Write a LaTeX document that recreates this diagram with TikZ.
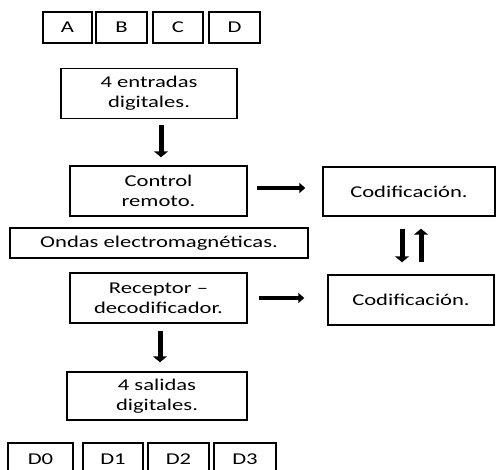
\documentclass[tikz,border=0pt]{standalone}
\usepackage{fontspec}
\setmainfont{Carlito}[FakeStretch=1.37]
\usetikzlibrary{arrows.meta}
\begin{document}
\begin{tikzpicture}[x=1pt,y=-1pt,
  box/.style={draw=black,line width=1.4pt,inner sep=0pt,align=center,
    font=\fontsize{16.5}{20}\selectfont},
  small/.style={draw=black,line width=1.4pt,inner sep=0pt,align=center,
    minimum height=31pt,text height=11pt,text depth=1pt,font=\fontsize{16.5}{20}\selectfont},
  bigarrow/.style={line width=5pt,-{Triangle[width=14pt,length=6pt]}},
  sidearrow/.style={line width=4pt,-{Triangle[width=10pt,length=6pt]}}]
\useasboundingbox (0,0) rectangle (496,470);
\clip (0,0) rectangle (496,470);
% top input boxes
\node[small,minimum width=49pt] (A) at (67.5,27.5) {A};
\node[small,minimum width=51pt] (B) at (121.5,27.5) {B};
\node[small,minimum width=50pt] (C) at (178,27.5) {C};
\node[small,minimum width=51pt] (D) at (234.5,27.5) {D};
% main column
\node[box,minimum width=176pt,minimum height=50pt] (ent) at (149,93.5) {4 entradas\\digitales.};
\node[box,minimum width=177pt,minimum height=50pt] (ctrl) at (158.5,191) {Control\\remoto.};
\node[box,minimum width=172pt,minimum height=49pt] (cod1) at (409,191.5) {Codificación.};
\node[box,minimum width=298pt,minimum height=30pt] (ondas) at (159,243) {Ondas electromagnéticas.};
\node[box,minimum width=177pt,minimum height=50pt] (rec) at (158.5,298) {Receptor --\\decodificador.};
\node[box,minimum width=166pt,minimum height=50pt] (cod2) at (411,300) {Codificación.};
\node[box,minimum width=180pt,minimum height=48pt] (sal) at (157,396) {4 salidas\\digitales.};
% bottom output boxes
\node[small,minimum width=65pt,minimum height=34pt] (D0) at (40.5,460) {D0};
\node[small,minimum width=60pt,minimum height=34pt] (D1) at (113,460) {D1};
\node[small,minimum width=61pt,minimum height=34pt] (D2) at (178.5,460) {D2};
\node[small,minimum width=62pt,minimum height=34pt] (D3) at (245,460) {D3};
% arrows
\draw[bigarrow,shorten <=6pt,shorten >=8pt] ([xshift=12pt]ent.south) -- ([xshift=2.5pt]ctrl.north);
\draw[sidearrow,shorten <=9pt,shorten >=17pt] ([yshift=3pt]ctrl.east) -- ([yshift=3pt]ctrl.east -| cod1.west);
\draw[sidearrow,shorten <=11pt,shorten >=23pt] (rec.east) -- (rec.east -| cod2.west);
\draw[bigarrow,shorten <=12pt,shorten >=12pt] ([xshift=-7pt]cod1.south) -- ([xshift=-7pt]cod1.south |- cod2.north);
\draw[bigarrow,shorten <=12pt,shorten >=12pt] ([xshift=12pt]cod1.south |- cod2.north) -- ([xshift=12pt]cod1.south);
\draw[bigarrow,shorten <=7pt,shorten >=9pt] ([xshift=1.5pt]rec.south) -- ([xshift=1.5pt]rec.south |- sal.north);
\end{tikzpicture}
\end{document}
